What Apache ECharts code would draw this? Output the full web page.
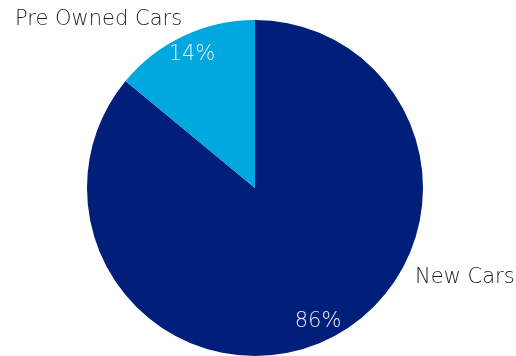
<!DOCTYPE html>
<html><head><meta charset="utf-8">
<script src="https://cdn.jsdelivr.net/npm/echarts@6/dist/echarts.min.js"></script>
<style>html,body{margin:0;padding:0;background:#fff}#c{width:516px;height:356px}</style>
</head><body><div id="c"></div>
<script>
const categories = ['New Cars', 'Pre Owned Cars'];
const values = [86, 14];
const colors = ['#001f7b', '#00a8df'];

const font = 'DejaVu Sans';
const chart = echarts.init(document.getElementById('c'));
const data = categories.map((n, i) => ({ name: n, value: values[i], itemStyle: { color: colors[i] } }));
const namePos = [{ x: 415, y: 278 }, { x: 15, y: 20 }];
chart.setOption({
  animation: false,
  series: [
    {
      type: 'pie', center: [255, 188], radius: [0, 168], startAngle: 90, clockwise: true,
      data: data,
      label: { show: true, position: 'outside', formatter: '{b}', fontFamily: font, fontWeight: 200, fontSize: 21, color: '#1e1e1e', overflow: 'none', width: 300 },
      labelLine: { show: false },
      labelLayout: (p) => ({ x: namePos[p.dataIndex].x, y: namePos[p.dataIndex].y, align: 'left', verticalAlign: 'middle', width: 300 }),
      emphasis: { disabled: true }
    },
    {
      type: 'pie', center: [255, 188], radius: [122, 168], startAngle: 90, clockwise: true, silent: true,
      data: categories.map((n, i) => ({ name: n, value: values[i] })),
      itemStyle: { color: 'rgba(0,0,0,0)' },
      label: { show: true, position: 'inside', formatter: '{c}%', fontFamily: font, fontWeight: 200, fontSize: 21, color: '#e8eef8' },
      labelLine: { show: false }
    }
  ]
});
</script></body></html>
